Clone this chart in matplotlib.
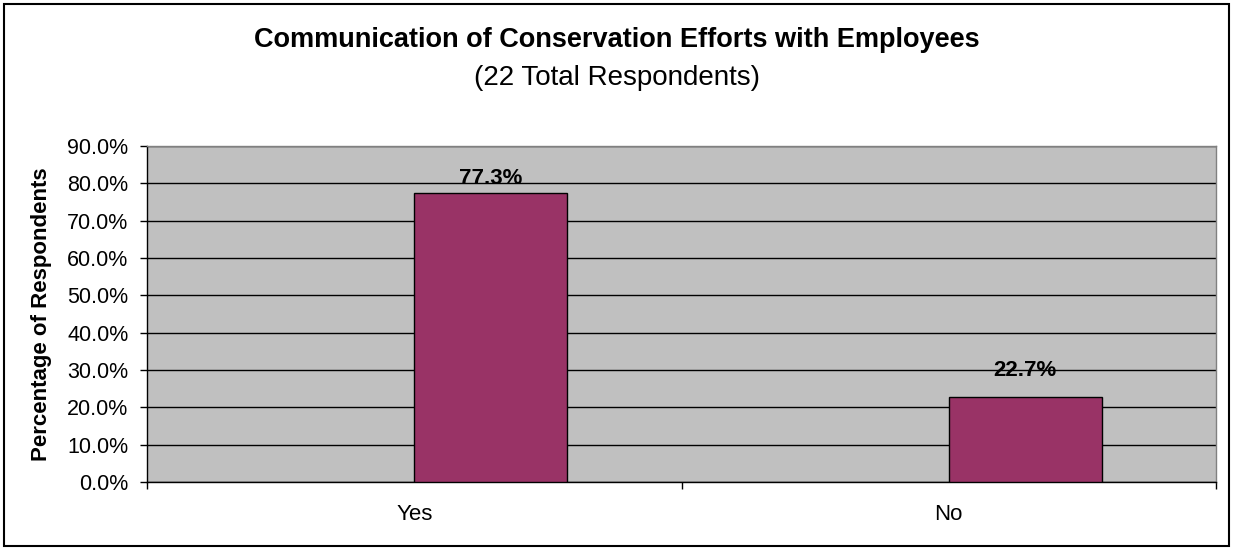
import matplotlib.pyplot as plt
from matplotlib.patches import Rectangle
from matplotlib.ticker import FuncFormatter

answers = ['Yes', 'No']
share = [77.3, 22.7]
y_ticks = [0, 10, 20, 30, 40, 50, 60, 70, 80, 90]

plt.rcParams['font.family'] = ['Liberation Sans', 'DejaVu Sans']

W, H = 1233, 550
fig = plt.figure(figsize=(W / 100, H / 100), dpi=100)
ax = fig.add_axes([147 / W, 1 - 482 / H, 1069 / W, 336 / H])

# bars sit to the right of each category centre, like the second slot of a cluster
pos = list(range(len(answers)))
bars = ax.bar(pos, share, width=0.286, align='edge', color='#993366',
              edgecolor='black', linewidth=1, zorder=3)

label_lift = [6.5, 15]
for rect, v, lift in zip(bars, share, label_lift):
    ax.annotate(f'{v:.1f}%', (rect.get_x() + rect.get_width() / 2, v),
                xytext=(0, lift), textcoords='offset points',
                ha='center', va='baseline', fontsize=16, fontweight='bold', zorder=4)

ax.set_facecolor('#C0C0C0')
ax.set_xlim(-0.5, len(answers) - 0.5)
ax.set_ylim(0, 90)
ax.set_yticks(y_ticks)
ax.yaxis.set_major_formatter(FuncFormatter(lambda v, _: f'{v:.1f}%'))
ax.yaxis.grid(True, color='black', linewidth=1, zorder=1)
ax.set_axisbelow(True)

ax.set_xticks(pos)
ax.set_xticklabels(answers)
ax.set_xticks([p - 0.5 for p in pos] + [len(answers) - 0.5], minor=True)
ax.tick_params(axis='x', which='major', length=0, pad=16, labelsize=16)
ax.tick_params(axis='x', which='minor', length=5, width=1, color='black')
ax.tick_params(axis='y', length=5, width=1, labelsize=15.5, pad=8.5)

for side in ['left', 'bottom']:
    ax.spines[side].set_color('black')
    ax.spines[side].set_linewidth(1)
for side in ['top', 'right']:
    ax.spines[side].set_color('#808080')
    ax.spines[side].set_linewidth(1)

fig.text(42 / W, 1 - 314 / H, 'Percentage of Respondents', rotation=90,
         ha='center', va='center', fontsize=16, fontweight='bold')

fig.text(0.5, 1 - 47 / H, 'Communication of Conservation Efforts with Employees',
         ha='center', va='baseline', fontsize=19.5, fontweight='bold')
fig.text(0.5, 1 - 85 / H, '(22 Total Respondents)',
         ha='center', va='baseline', fontsize=20)

# outer frame around the whole chart
fig.patches.append(Rectangle((4 / W, 4 / H), 1 - 8 / W, 1 - 8 / H,
                             transform=fig.transFigure, fill=False,
                             edgecolor='black', linewidth=1.5))

fig.savefig('out.png', dpi=100)
